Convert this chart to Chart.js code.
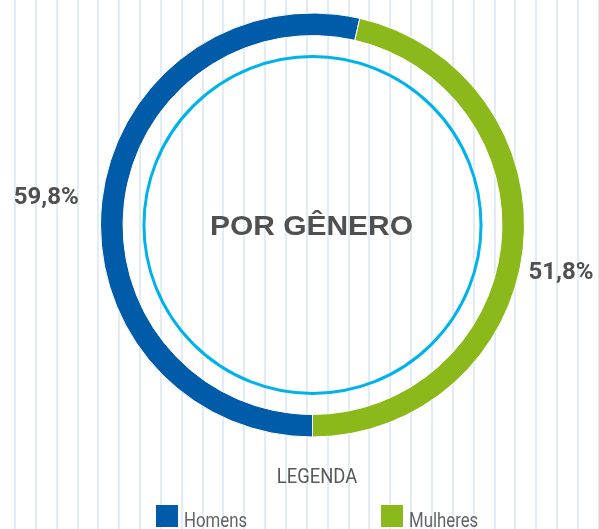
<!DOCTYPE html>
<html>
<head>
<meta charset="utf-8">
<script src="https://cdn.jsdelivr.net/npm/chart.js@4.4.0/dist/chart.umd.min.js"></script>
<style>
    html, body { margin: 0; padding: 0; background: #fff; }
    #wrap { width: 599px; height: 529px; position: relative; }
</style>
</head>
<body>
<div id="wrap"><canvas id="gender-chart" width="599" height="529"></canvas></div>
<script>
// chart data
var categories = ['Homens', 'Mulheres'];
var percentages = [59.8, 51.8];
var colors = ['#005ca9', '#8bb81b'];
var centerTitle = 'POR GÊNERO';
var legendTitle = 'LEGENDA';

// background with light vertical stripes
var stripesPlugin = {
    id: 'stripes',
    beforeDraw: function(chart) {
        var ctx = chart.ctx;
        ctx.save();
        ctx.fillStyle = '#ffffff';
        ctx.fillRect(0, 0, chart.width, chart.height);
        ctx.strokeStyle = '#e3ebf4';
        ctx.lineWidth = 2;
        for (var x = 15; x < chart.width; x += 20.85) {
            ctx.beginPath();
            ctx.moveTo(Math.round(x), 0);
            ctx.lineTo(Math.round(x), chart.height);
            ctx.stroke();
        }
        ctx.restore();
    }
};

// inner circle, center title, percentages and legend
var decorPlugin = {
    id: 'decor',
    afterDatasetsDraw: function(chart) {
        var ctx = chart.ctx;
        var meta = chart.getDatasetMeta(0);
        var first = meta.data[0];
        var cx = first.x;
        var cy = first.y;
        var outer = first.outerRadius;
        ctx.save();

        // thin inner circle
        ctx.beginPath();
        ctx.arc(cx, cy, outer * 0.795, 0, Math.PI * 2);
        ctx.strokeStyle = '#00b2ea';
        ctx.lineWidth = 3;
        ctx.stroke();

        // title in the middle
        ctx.fillStyle = '#505053';
        ctx.textAlign = 'center';
        ctx.textBaseline = 'middle';
        ctx.font = 'bold 28px "Liberation Sans"';
        ctx.save();
        ctx.translate(cx - 1, cy + 2);
        ctx.scale(1.07, 1);
        ctx.fillText(centerTitle, 0, 0);
        ctx.restore();

        // percentage labels outside the ring
        var nudges = [[0, 3], [0, 20]];
        ctx.font = 'bold 24px Roboto';
        meta.data.forEach(function(arc, i) {
            var mid = (arc.startAngle + arc.endAngle) / 2;
            var dist = i === 0 ? outer + 56 : outer + 38;
            var lx = cx + Math.cos(mid) * dist + nudges[i][0];
            var ly = cy + Math.sin(mid) * dist + nudges[i][1];
            var text = percentages[i].toFixed(1).replace('.', ',') + '%';
            ctx.fillText(text, lx, ly);
        });

        // legend title
        ctx.fillStyle = '#58595b';
        ctx.font = '20px Roboto';
        ctx.save();
        ctx.translate(317, 478);
        ctx.scale(0.92, 1);
        ctx.fillText(legendTitle, 0, 0);
        ctx.restore();

        // legend items
        var itemX = [156, 381];
        ctx.textAlign = 'left';
        ctx.textBaseline = 'alphabetic';
        ctx.font = '21px Roboto';
        categories.forEach(function(name, i) {
            ctx.fillStyle = colors[i];
            ctx.fillRect(itemX[i], 505, 22, 22);
            ctx.fillStyle = '#626366';
            ctx.save();
            ctx.translate(itemX[i] + 28, 527);
            ctx.scale(0.8, 1);
            ctx.fillText(name, 0, 0);
            ctx.restore();
        });
        ctx.restore();
    }
};

// print doughnut chart
var ctx = document.getElementById('gender-chart').getContext('2d');
var genderChart = new Chart(ctx, {
    type: 'doughnut',
    data: {
        labels: categories,
        datasets: [{
            data: percentages,
            backgroundColor: colors,
            borderColor: '#ffffff',
            borderWidth: 1
        }]
    },
    options: {
        responsive: false,
        animation: false,
        rotation: 180,
        radius: 212,
        cutout: 189,
        layout: {
            padding: { left: 100, right: 74, top: 13, bottom: 92 }
        },
        plugins: {
            legend: { display: false },
            tooltip: { enabled: false }
        }
    },
    plugins: [stripesPlugin, decorPlugin]
});
</script>
</body>
</html>
